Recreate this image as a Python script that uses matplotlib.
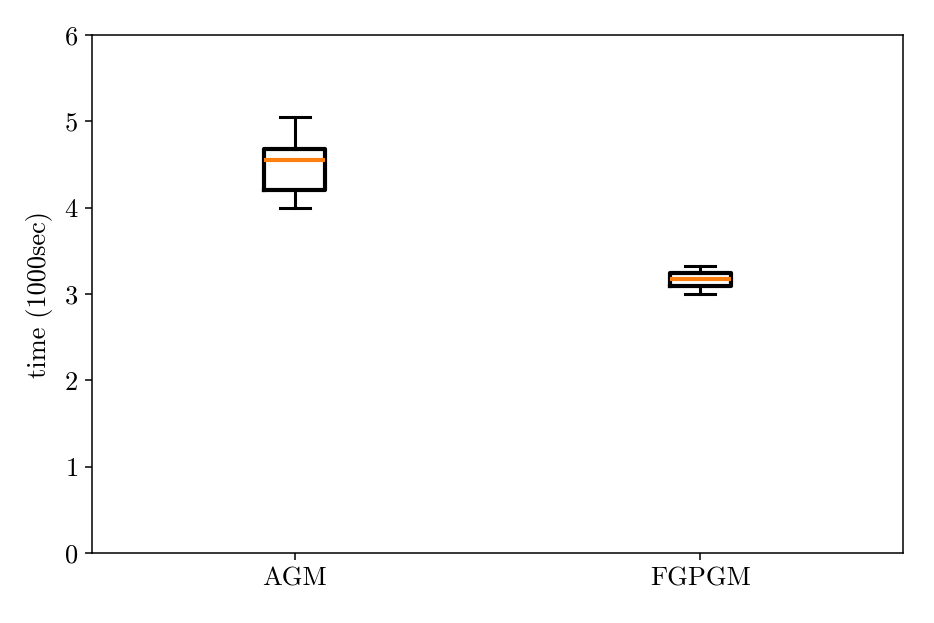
import matplotlib
matplotlib.use("Agg")
import matplotlib.pyplot as plt

plt.rcParams['font.family'] = 'serif'
plt.rcParams['font.serif'] = ['cmr10', 'DejaVu Serif']
plt.rcParams['mathtext.fontset'] = 'cm'
plt.rcParams['axes.formatter.use_mathtext'] = True

# box statistics (units: 1000 sec)
labels = ['AGM', 'FGPGM']
whislo = [4.00, 3.00]
q1 = [4.21, 3.09]
med = [4.55, 3.17]
q3 = [4.68, 3.24]
whishi = [5.05, 3.32]

stats = []
for i in range(len(labels)):
    stats.append({'label': labels[i], 'whislo': whislo[i], 'q1': q1[i],
                  'med': med[i], 'q3': q3[i], 'whishi': whishi[i], 'fliers': []})

fig = plt.figure(figsize=(9.34, 6.23), dpi=100)
ax = fig.add_axes([92 / 934, 1 - 553 / 623, 811 / 934, 518 / 623])

ax.bxp(stats, showfliers=False,
       boxprops=dict(linewidth=3, color='black'),
       whiskerprops=dict(linewidth=2.2, color='black'),
       capprops=dict(linewidth=2.2, color='black'),
       medianprops=dict(linewidth=3, color='#ff7f0e'))

ax.set_ylim(0, 6)
ax.set_ylabel('time (1000sec)', fontsize=19, labelpad=8)
ax.tick_params(labelsize=19, length=5, width=1.1, pad=5)
for s in ax.spines.values():
    s.set_linewidth(1.1)

fig.savefig('out.png', dpi=100)
